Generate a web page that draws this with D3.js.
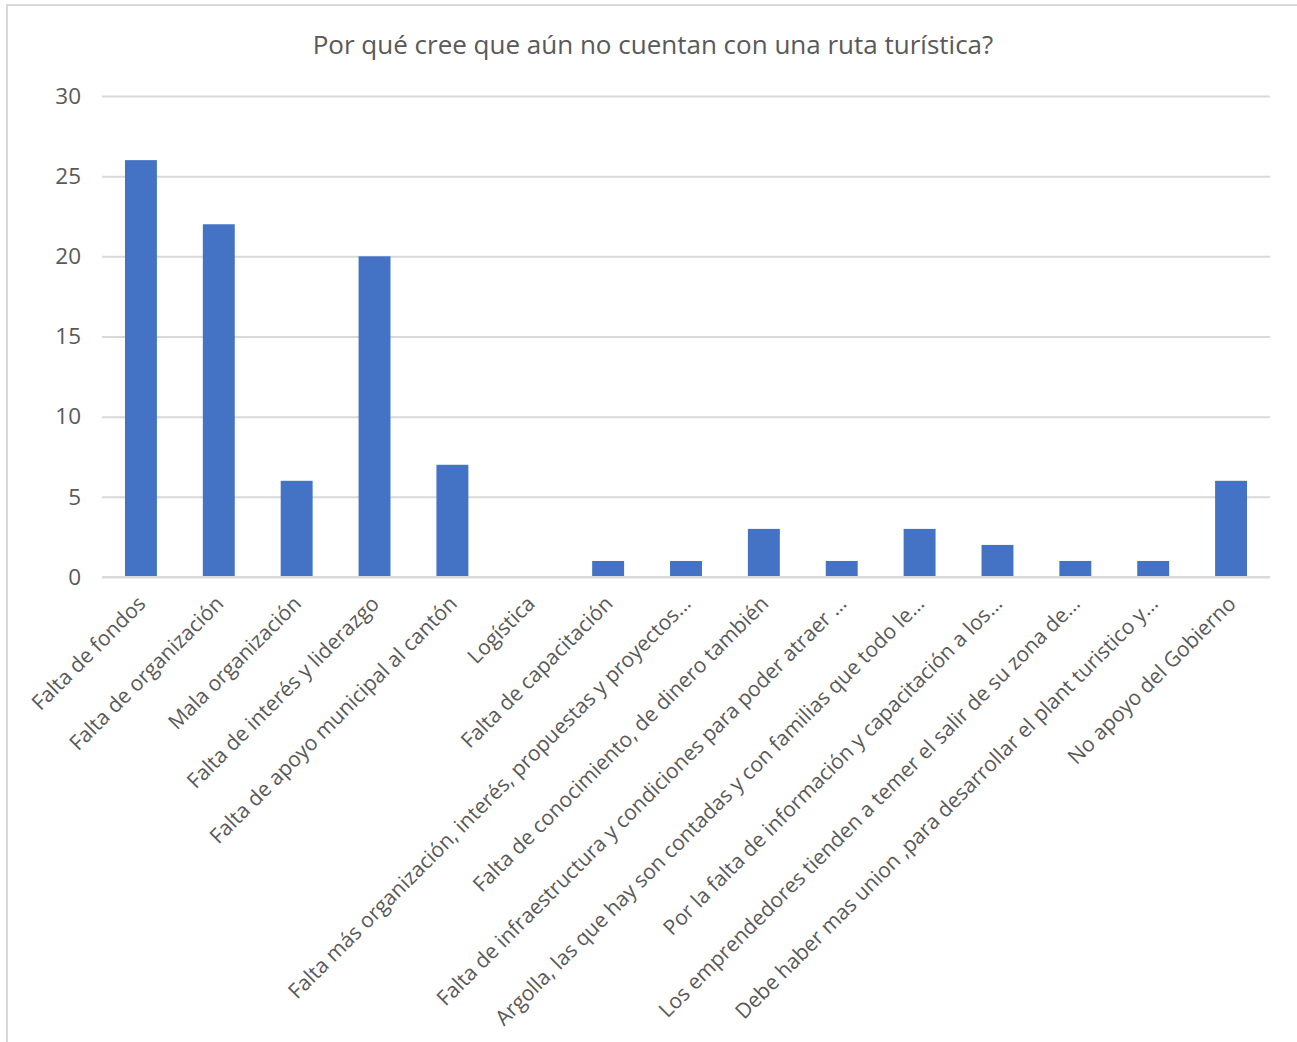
<!DOCTYPE html>
<html>
<head>
<meta charset="utf-8">
<script src="https://cdn.jsdelivr.net/npm/d3@7"></script>
<style>
  html, body { margin: 0; padding: 0; background: #fff; }
  svg { display: block; font-family: "Open Sans", "Noto Sans", sans-serif; }
</style>
</head>
<body>
<svg id="chart" width="1297" height="1042"></svg>
<script>
const title = "Por qué cree que aún no cuentan con una ruta turística?";
const categories = [
  "Falta de fondos",
  "Falta de organización",
  "Mala organización",
  "Falta de interés y liderazgo",
  "Falta de apoyo municipal al cantón",
  "Logística",
  "Falta de capacitación",
  "Falta más organización, interés, propuestas y proyectos…",
  "Falta de conocimiento, de dinero también",
  "Falta de infraestructura y condiciones para poder atraer …",
  "Argolla, las que hay son contadas y con familias que todo le…",
  "Por la falta de información y capacitación a los…",
  "Los emprendedores tienden a temer el salir de su zona de…",
  "Debe haber mas union ,para desarrollar el plant turistico y…",
  "No apoyo del Gobierno"
];
const values = [26, 22, 6, 20, 7, 0, 1, 1, 3, 1, 3, 2, 1, 1, 6];
const yTicks = [0, 5, 10, 15, 20, 25, 30];

const svg = d3.select("#chart");
const m = { left: 102, right: 1270, top: 96, bottom: 577 };

// chart border
svg.append("path")
  .attr("d", `M7,1042 V5 H1297`)
  .attr("fill", "none").attr("stroke", "#d9d9d9").attr("stroke-width", 2);

svg.append("text")
  .attr("x", 653).attr("y", 54)
  .attr("text-anchor", "middle")
  .attr("font-size", 26)
  .attr("fill", "#595959")
  .text(title);

const x = d3.scaleBand().domain(categories).range([m.left, m.right]).paddingInner(0.59).paddingOuter(0.295);
const y = d3.scaleLinear().domain([0, 30]).range([m.bottom, m.top]);

// gridlines
const yAxis = d3.axisLeft(y).tickValues(yTicks).tickSize(-(m.right - m.left)).tickPadding(21);
const gy = svg.append("g").attr("transform", `translate(${m.left},0)`).call(yAxis);
gy.select(".domain").remove();
gy.selectAll(".tick line").attr("stroke", "#d9d9d9").attr("stroke-width", 2);
gy.selectAll(".tick text").attr("font-size", 22.5).attr("fill", "#595959").attr("font-family", "Open Sans");

// bars
svg.append("g").selectAll("rect").data(values).join("rect")
  .attr("x", (d, i) => x(categories[i]))
  .attr("width", x.bandwidth())
  .attr("y", d => y(d))
  .attr("height", d => y(0) - y(d))
  .attr("fill", "#4472c4");

// axis line
svg.append("line")
  .attr("x1", m.left).attr("x2", m.right)
  .attr("y1", y(0)).attr("y2", y(0))
  .attr("stroke", "#d9d9d9").attr("stroke-width", 2);

// x labels
const xAxis = d3.axisBottom(x).tickSize(0).tickPadding(0);
const gx = svg.append("g").attr("transform", `translate(0,${m.bottom})`).call(xAxis);
gx.select(".domain").remove();
gx.selectAll(".tick text")
  .attr("font-size", 21)
  .attr("fill", "#595959")
  .attr("font-family", "Open Sans")
  .attr("text-anchor", "end")
  .attr("dy", null)
  .attr("y", 0)
  .attr("transform", "translate(6,28) rotate(-45)");
</script>
</body>
</html>
